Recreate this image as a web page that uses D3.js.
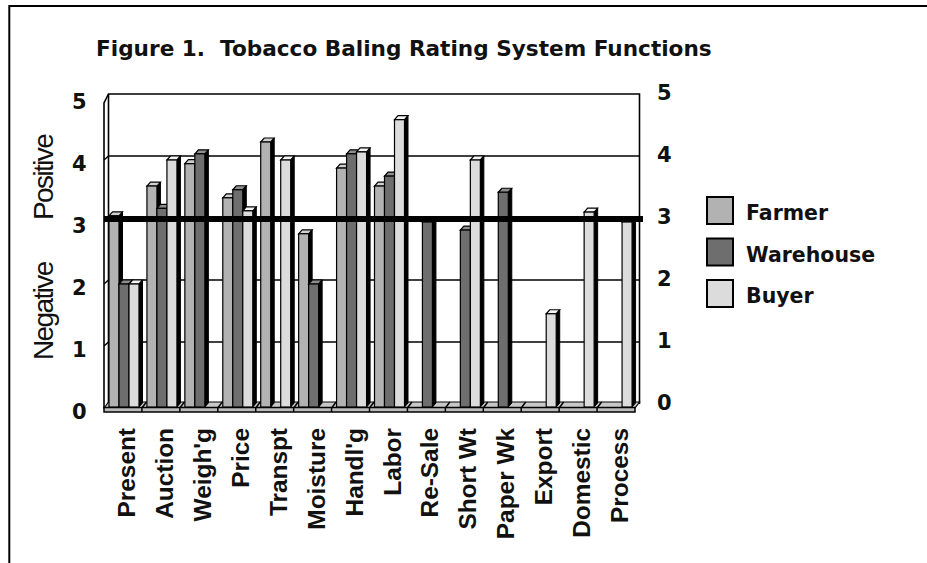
<!DOCTYPE html>
<html><head><meta charset="utf-8">
<script src="https://cdn.jsdelivr.net/npm/d3@7"></script>
<style>html,body{margin:0;padding:0;background:#fff}svg{display:block}</style>
</head><body><svg id="c" width="927" height="563"></svg>
<script>
const categories=["Present","Auction","Weigh'g","Price","Transpt","Moisture","Handl'g","Labor","Re-Sale","Short Wt","Paper Wk","Export","Domestic","Process"];
const farmer=[3.1,3.58,3.94,3.39,4.29,2.81,3.87,3.58,null,null,null,null,null,null];
const warehouse=[2,3.22,4.1,3.52,null,2,4.1,3.74,3,2.87,3.48,null,null,null];
const buyer=[2,4,null,3.18,4,null,4.13,4.65,null,4,null,1.52,3.16,3];
const seriesNames=["Farmer","Warehouse","Buyer"];
const seriesColors=["#b2b2b2","#6e6e6e","#dcdcdc"];
const topColors=["#d0d0d0","#8e8e8e","#f4f4f4"];
const ticks=[0,1,2,3,4,5];
const refValue=3;
const title="Figure 1.  Tobacco Baling Rating System Functions";

const svg=d3.select("#c");
const dx=4.5,dy=4,bdx=3.5;
const y=d3.scaleLinear().domain([0,5]).range([408,98]);
const x=d3.scaleBand().domain(categories).range([104,635]);
const barW=10, inset=5;
const series=[farmer,warehouse,buyer];
const bold="'DejaVu Sans',Verdana,sans-serif";
const arial="'Liberation Sans',Arial,sans-serif";
const line=d3.line();

svg.append("path").attr("d","M9.3,563V6H927").attr("fill","none").attr("stroke","#000").attr("stroke-width",2);

svg.append("text").attr("x",96).attr("y",56).attr("font-family",bold).attr("font-weight",700).attr("font-size",21.6).attr("fill","#111").style("white-space","pre").text(title);

const x0=x.range()[0],x1=x.range()[1];
const gridT=ticks.filter(t=>t>0&&t<5);
svg.selectAll("line.grid").data(gridT).join("line").attr("class","grid")
 .attr("x1",x0+dx).attr("x2",x1+dx).attr("y1",t=>y(t)-dy).attr("y2",t=>y(t)-dy).attr("stroke","#000").attr("stroke-width",1.5);
svg.selectAll("line.gs").data(gridT).join("line").attr("class","gs")
 .attr("x1",x0).attr("x2",x0+dx).attr("y1",t=>y(t)).attr("y2",t=>y(t)-dy).attr("stroke","#000").attr("stroke-width",1.5);
// walls
svg.append("path").attr("d",line([[x0,y(0)],[x0,y(5)+5],[x0+dx,y(5)-dy],[x1+dx,y(5)-dy],[x1+dx,y(0)-dy]])).attr("fill","none").attr("stroke","#000").attr("stroke-width",1.6);
svg.append("line").attr("x1",x0+dx).attr("x2",x0+dx).attr("y1",y(5)-dy).attr("y2",y(0)-dy).attr("stroke","#000").attr("stroke-width",1.6);

// floor
svg.append("path").attr("d",line([[x0,y(0)],[x0+dx,y(0)-6],[x1+dx,y(0)-6],[x1,y(0)]])+"Z").attr("fill","#c8c8c8").attr("stroke","#000").attr("stroke-width",1.2);
svg.selectAll("line.ft").data(categories.slice(1)).join("line").attr("class","ft")
 .attr("x1",d=>x(d)).attr("x2",d=>x(d)+dx).attr("y1",y(0)).attr("y2",y(0)-6).attr("stroke","#000").attr("stroke-width",1.5);
// floor front band
svg.append("rect").attr("x",x0).attr("width",x1-x0).attr("y",y(0)-.5).attr("height",4.5).attr("fill","#bcbcbc").attr("stroke","#000").attr("stroke-width",1.5);
svg.selectAll("line.bt").data(categories.slice(1)).join("line").attr("class","bt")
 .attr("x1",d=>x(d)).attr("x2",d=>x(d)).attr("y1",y(0)).attr("y2",y(0)+4).attr("stroke","#000").attr("stroke-width",1.5);

// bars
series.forEach((vals,s)=>{
 const g=svg.append("g");
 categories.forEach((c,i)=>{
  const v=vals[i]; if(v==null) return;
  const l=x(c)+inset+s*barW, r=l+barW, t=y(v), b=y(0)-1;
  g.append("path").attr("d",line([[r,t],[r+bdx,t-dy],[r+bdx,b-dy],[r,b]])+"Z").attr("fill","#000").attr("stroke","#000");
  g.append("path").attr("d",line([[l,t],[l+bdx,t-dy],[r+bdx,t-dy],[r,t]])+"Z").attr("fill",topColors[s]).attr("stroke","#000").attr("stroke-width",1.2);
  g.append("rect").attr("x",l).attr("y",t).attr("width",barW).attr("height",b-t).attr("fill",seriesColors[s]).attr("stroke","#000").attr("stroke-width",1.2);
 });
});

// reference line
svg.append("rect").attr("x",x0).attr("width",643-x0).attr("y",y(refValue)-6).attr("height",6).attr("fill","#000");

const tickStyle=sel=>sel.attr("font-family",bold).attr("font-weight",700).attr("font-size",21).attr("fill","#111");
tickStyle(svg.selectAll("text.yl").data(ticks).join("text").attr("class","yl")
 .attr("x",72).attr("y",t=>y(t)+10.5).text(t=>t));
tickStyle(svg.selectAll("text.yr").data(ticks).join("text").attr("class","yr")
 .attr("x",657).attr("y",t=>y(t)+2).text(t=>t));

svg.selectAll("text.cat").data(categories).join("text").attr("class","cat")
 .attr("transform",d=>`translate(${x(d)+31},428) rotate(-90)`)
 .attr("text-anchor","end").attr("font-family",arial).attr("font-weight",700).attr("font-size",24.4).attr("fill","#111").text(d=>d);

[["Positive",220],["Negative",360]].forEach(([t,py])=>{
 svg.append("text").attr("transform",`translate(53,${py}) rotate(-90)`).attr("font-family",arial).attr("font-size",28).attr("letter-spacing",-1.6).attr("fill","#111").text(t);
});

const lg=svg.selectAll("g.lg").data(seriesNames).join("g").attr("class","lg").attr("transform",(d,i)=>`translate(707,${197+i*41.5})`);
lg.append("rect").attr("width",26).attr("height",27).attr("fill",(d,i)=>seriesColors[i]).attr("stroke","#000").attr("stroke-width",2);
lg.append("text").attr("x",39).attr("y",23).attr("font-family",bold).attr("font-weight",700).attr("font-size",20.5).attr("fill","#111").text(d=>d);
</script></body></html>
